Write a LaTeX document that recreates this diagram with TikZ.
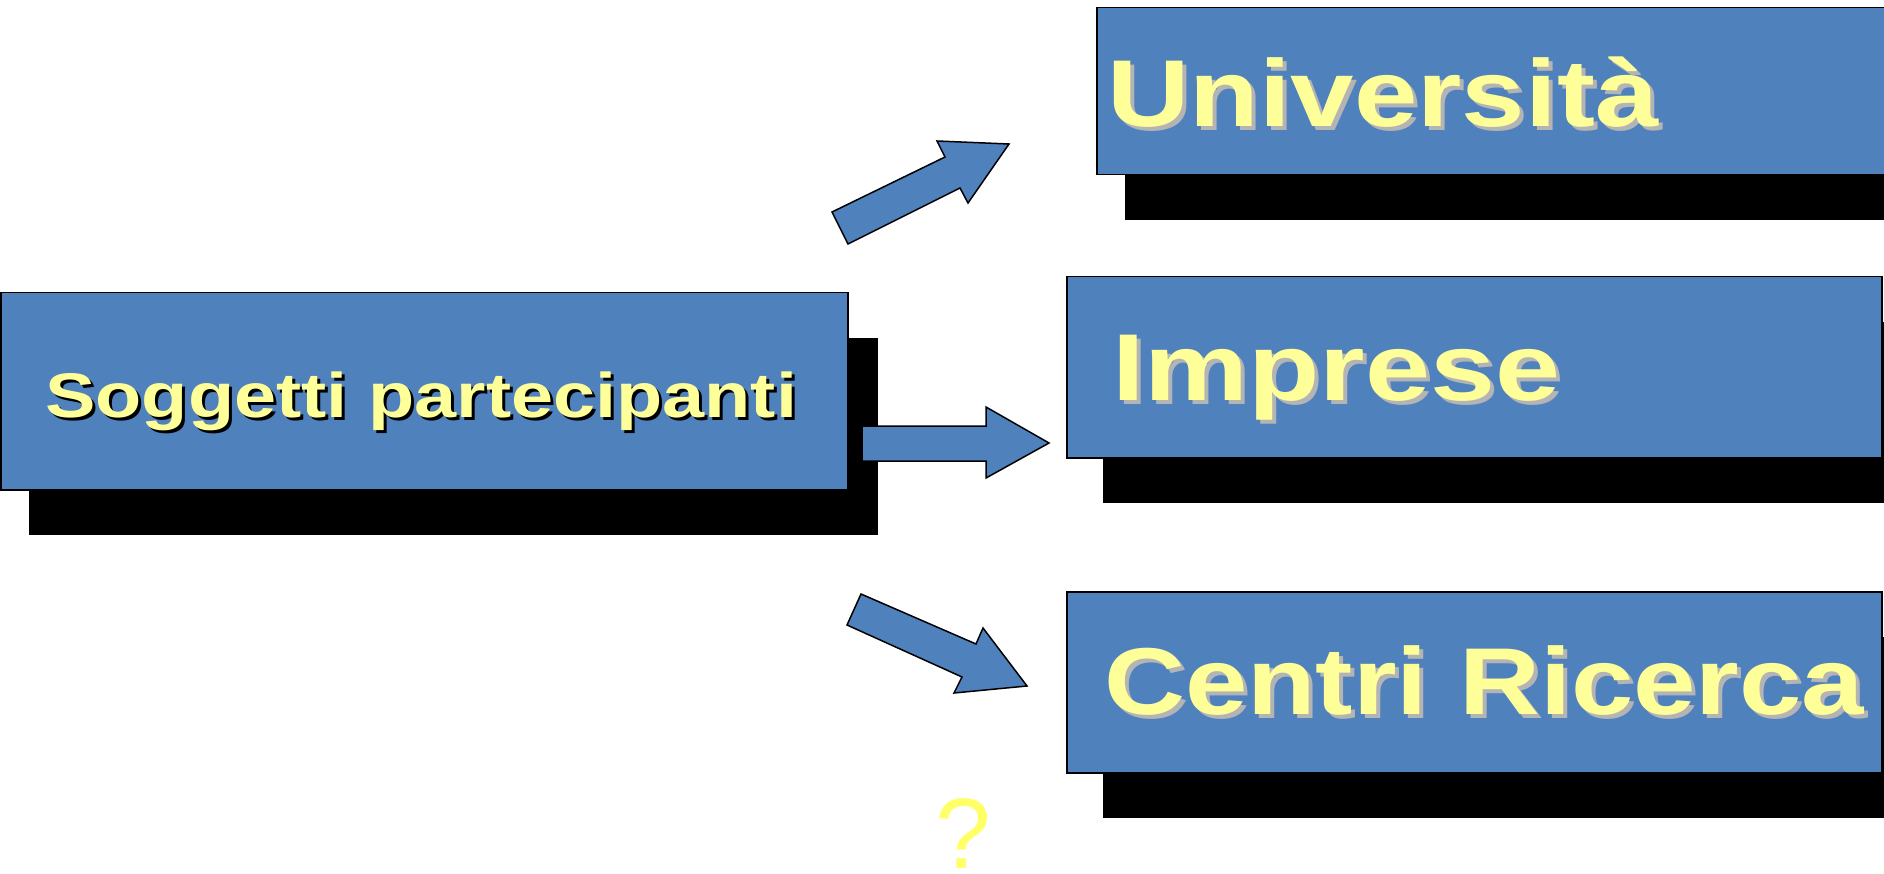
\documentclass[tikz,border=0pt]{standalone}
\usepackage{fontspec}
\setmainfont{Liberation Sans}
\definecolor{boxblue}{HTML}{4F81BD}
\definecolor{txtyellow}{HTML}{FFFF99}
\definecolor{shgray}{HTML}{B4B4B4}
\definecolor{qyellow}{HTML}{FFFF66}
\tikzset{
  bluebox/.style={draw=black, line width=1.5pt, fill=boxblue, rectangle, anchor=north west, inner sep=0pt},
  shadowbox/.style={fill=black, draw=none, rectangle, anchor=north west, inner sep=0pt},
  blockarrow/.style={draw=black, line width=1.5pt, fill=boxblue, line join=miter},
  bigtxt/.style={inner sep=0pt, anchor=base west, font=\fontsize{95}{100}\selectfont\bfseries},
  smalltxt/.style={inner sep=0pt, anchor=base west, font=\fontsize{63}{70}\selectfont\bfseries},
}
\newcommand{\wide}[2][1.2]{\scalebox{#1}[1]{#2}}
\begin{document}
\begin{tikzpicture}[x=1pt,y=-1pt]
\useasboundingbox (0,0) rectangle (1884,874);
% shadows
\node[shadowbox, minimum width=820pt, minimum height=167pt] (unish) at (1125,53) {};
\node[shadowbox, minimum width=818pt, minimum height=181pt] (impsh) at (1103,322) {};
\node[shadowbox, minimum width=818pt, minimum height=181pt] (censh) at (1103,637) {};
\node[shadowbox, minimum width=849pt, minimum height=197pt] (sogsh) at (29,338) {};
% boxes
\node[bluebox, minimum width=820pt, minimum height=167pt] (uni) at (1096,7) {};
\node[bluebox, minimum width=815pt, minimum height=181pt] (imp) at (1066,276) {};
\node[bluebox, minimum width=815pt, minimum height=181pt] (cen) at (1066,591) {};
\node[bluebox, minimum width=847pt, minimum height=197pt] (sog) at (0,292) {};
% texts
\node[bigtxt, text=shgray] (units) at (1111,131) {\wide{Università}};
\node[bigtxt, text=txtyellow] (unit) at (1107,127) {\wide{Università}};
\node[bigtxt, text=shgray] (impts) at (1116,404) {\wide[1.23]{Imprese}};
\node[bigtxt, text=txtyellow] (impt) at (1112,400) {\wide[1.23]{Imprese}};
\node[bigtxt, text=shgray] (cents) at (1108,718) {\wide[1.18]{Centri Ricerca}};
\node[bigtxt, text=txtyellow] (cent) at (1104,714) {\wide[1.18]{Centri Ricerca}};
\node[smalltxt, text=black] (sogts) at (48,420) {\wide{Soggetti partecipanti}};
\node[smalltxt, text=txtyellow] (sogt) at (45,417) {\wide{Soggetti partecipanti}};
% block arrows
\draw[blockarrow] (832,212) -- (945,157) -- (937,141) -- (1009,144) -- (968,203) -- (960,188) -- (848,244) -- cycle;
\draw[blockarrow] (862,426) -- (986,426) -- (986,407) -- (1049,443) -- (986,478) -- (986,461) -- (862,461) -- cycle;
\draw[blockarrow] (861,594) -- (976,644) -- (983,628) -- (1027,686) -- (954,693) -- (962,677) -- (847,625) -- cycle;
% question mark
\node[inner sep=0pt, anchor=base, text=qyellow, font=\fontsize{100}{110}\selectfont] (q) at (963,868) {?};
\end{tikzpicture}
\end{document}
